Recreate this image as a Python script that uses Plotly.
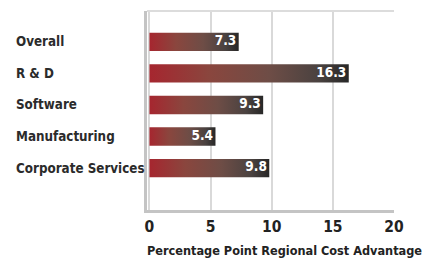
import plotly.graph_objects as go

categories = ["Overall", "R & D", "Software", "Manufacturing", "Corporate Services"]
values = [7.3, 16.3, 9.3, 5.4, 9.8]
x_ticks = [0, 5, 10, 15, 20]
x_title = "Percentage Point Regional Cost Advantage"

FONT = "DejaVu Sans Condensed, Liberation Sans Narrow, Roboto, sans-serif"
BAR_W = 0.58
grad = [[0, "#a6262f"], [0.3, "#8a463e"], [0.6, "#6e4d46"], [0.85, "#4a4240"], [1, "#272727"]]

fig = go.Figure()
for i, (c, v) in enumerate(zip(categories, values)):
    y0, y1 = i - BAR_W / 2, i + BAR_W / 2
    fig.add_trace(go.Scatter(
        x=[0, v, v, 0, 0], y=[y0, y0, y1, y1, y0],
        mode="lines", line=dict(width=0), fill="toself",
        fillgradient=dict(type="horizontal", colorscale=grad),
        hoverinfo="skip", showlegend=False,
    ))

fig.add_trace(go.Scatter(
    x=values, y=list(range(len(categories))),
    mode="text", text=[f"{v:.1f}\u2009" for v in values],
    textposition="middle left",
    textfont=dict(family=FONT, size=13.5, color="white", weight="bold"),
    showlegend=False, hoverinfo="skip",
))

PLOT_W = 435 - 147 - 41
annotations = [
    dict(xref="paper", yref="y", x=-(147 - 14) / PLOT_W, y=i, text=c, showarrow=False,
         xanchor="left", yanchor="middle",
         font=dict(family=FONT, size=13.3, color="#2b2b2b", weight="bold"))
    for i, c in enumerate(categories)
]
annotations.append(dict(
    xref="paper", yref="paper", x=(284 - 147) / PLOT_W, y=-(250 - 210) / 199,
    text=x_title, showarrow=False, xanchor="center", yanchor="middle",
    font=dict(family=FONT, size=12.6, color="#222", weight="bold"),
))

fig.update_layout(
    width=435, height=261,
    margin=dict(l=147, r=41, t=11, b=51, autoexpand=False),
    paper_bgcolor="white", plot_bgcolor="white",
    font=dict(family=FONT, color="#2b2b2b"),
    xaxis=dict(
        range=[-0.2, 20], tickvals=x_ticks, ticktext=[str(t) for t in x_ticks],
        showgrid=True, gridcolor="#d9d9d9", gridwidth=1.5,
        zeroline=False, showline=True, linecolor="#c4c4c4", linewidth=3,
        ticks="", ticklen=0, automargin=False,
        tickfont=dict(family=FONT, size=15.5, color="#222", weight="bold"),
    ),
    yaxis=dict(
        range=[5.33, -0.98], showticklabels=False,
        showgrid=False, zeroline=False, showline=True, linecolor="#c4c4c4", linewidth=3,
        ticks="", automargin=False,
    ),
    annotations=annotations,
    shapes=[
        dict(type="line", xref="paper", yref="paper", x0=0, x1=1, y0=1, y1=1,
             line=dict(color="#dcdcdc", width=2)),
    ],
)

fig.write_html("out.html", post_script="document.body.style.margin='0';",
               config={"displayModeBar": False})
